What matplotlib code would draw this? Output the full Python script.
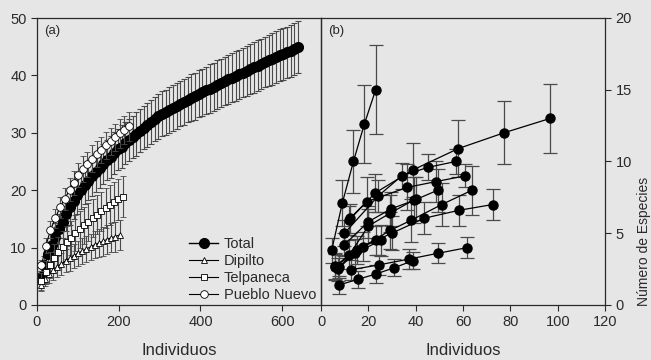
import numpy as np
import matplotlib.pyplot as plt

plt.rcParams['font.family'] = ['Liberation Sans', 'DejaVu Sans']

# ---- panel (a): rarefaction curves ----
tot_x = list(range(9, 640, 9))
tot_y = [4.8, 6.9, 8.8, 10.4, 11.8, 13.2, 14.5, 15.8, 17.0, 18.1,
         19.1, 20.0, 20.9, 21.6, 22.4, 23.1, 23.8, 24.5, 25.2, 25.8,
         26.5, 27.1, 27.6, 28.2, 28.7, 29.3, 29.8, 30.4, 30.9, 31.4,
         31.9, 32.4, 32.9, 33.3, 33.6, 34.0, 34.3, 34.7, 35.1, 35.4,
         35.8, 36.1, 36.4, 36.8, 37.1, 37.4, 37.7, 38.0, 38.4, 38.7,
         39.0, 39.3, 39.6, 39.9, 40.2, 40.5, 40.8, 41.1, 41.4, 41.7,
         42.0, 42.3, 42.6, 42.9, 43.2, 43.5, 43.7, 44.0, 44.3, 44.6,
         45.0]
tot_err = [1.2, 1.6, 1.9, 2.2, 2.4, 2.6, 2.8, 2.9, 3.0, 3.1,
           3.2, 3.2, 3.3, 3.3, 3.4, 3.4, 3.5, 3.5, 3.5, 3.6,
           3.6, 3.6, 3.7, 3.7, 3.7, 3.7, 3.8, 3.8, 3.8, 3.8,
           3.9, 3.9, 3.9, 3.9, 3.9, 4.0, 4.0, 4.0, 4.0, 4.0,
           4.0, 4.1, 4.1, 4.1, 4.1, 4.1, 4.2, 4.2, 4.2, 4.2,
           4.2, 4.3, 4.3, 4.3, 4.3, 4.3, 4.4, 4.4, 4.4, 4.4,
           4.4, 4.4, 4.5, 4.5, 4.5, 4.5, 4.5, 4.5, 4.5, 4.5,
           4.5]

dip_x = [10, 20, 30, 40, 50, 60, 70, 80, 90, 100, 111, 121, 131, 141, 151, 161, 171, 181, 191, 202]
dip_y = [3.5, 4.6, 5.4, 6.1, 6.7, 7.2, 7.7, 8.1, 8.6, 9.0, 9.4, 9.8, 10.1, 10.5, 10.8, 11.1, 11.4, 11.7, 11.9, 12.2]
dip_err = [1.0, 1.3, 1.5, 1.7, 1.8, 1.9, 2.0, 2.1, 2.1, 2.2, 2.2, 2.3, 2.3, 2.4, 2.4, 2.5, 2.5, 2.5, 2.6, 2.6]

tel_x = [10, 21, 31, 42, 52, 63, 73, 84, 94, 105, 115, 126, 136, 147, 157, 168, 178, 189, 199, 210]
tel_y = [4.1, 5.7, 7.0, 8.1, 9.2, 10.1, 10.9, 11.7, 12.5, 13.2, 13.9, 14.5, 15.1, 15.7, 16.3, 16.9, 17.4, 17.9, 18.4, 18.9]
tel_err = [1.5, 2.0, 2.3, 2.5, 2.7, 2.8, 2.9, 3.0, 3.1, 3.2, 3.2, 3.3, 3.3, 3.4, 3.4, 3.5, 3.5, 3.5, 3.6, 3.6]

pue_x = [11, 22, 33, 45, 56, 68, 80, 90, 101, 112, 123, 135, 146, 157, 168, 180, 191, 202, 214, 225]
pue_y = [6.9, 10.3, 13.1, 15.1, 17.0, 18.5, 20.1, 21.3, 22.6, 23.7, 24.5, 25.5, 26.3, 27.0, 27.8, 28.5, 29.2, 29.9, 30.5, 31.1]
pue_err = [1.0, 1.3, 1.5, 1.7, 1.8, 1.9, 2.0, 2.1, 2.1, 2.2, 2.2, 2.3, 2.3, 2.3, 2.4, 2.4, 2.4, 2.5, 2.5, 2.5]

# ---- panel (b): one curve per site ----
sites = [
    ([4.5, 9.0, 13.7, 18.3, 23.1], [3.8, 7.1, 10.0, 12.6, 15.0], [0.9, 1.6, 2.2, 2.7, 3.1]),
    ([11.8, 22.8, 38.7, 58.0, 77.3, 96.8], [5.9, 7.8, 9.4, 10.9, 12.0, 13.0], [1.0, 1.3, 1.9, 2.0, 2.2, 2.4]),
    ([9.9, 24.2, 34.1, 45.4, 56.9], [5.0, 7.6, 9.0, 9.6, 10.0], [0.9, 1.1, 0.9, 0.9, 0.9]),
    ([12.3, 19.3, 36.5, 48.6, 60.8], [6.05, 7.2, 8.2, 8.6, 9.0], [1.0, 1.7, 1.6, 1.4, 0.8]),
    ([9.9, 20.0, 29.6, 39.4, 49.3], [4.2, 5.8, 6.7, 7.3, 8.0], [0.8, 1.1, 1.2, 1.6, 1.5]),
    ([5.9, 17.9, 29.2, 38.0, 51.0, 63.8], [2.67, 4.07, 5.2, 5.9, 7.0, 8.0], [0.9, 1.0, 1.3, 1.5, 1.5, 1.7]),
    ([7.7, 15.1, 23.2, 29.9, 43.7, 58.3, 72.5], [2.67, 3.84, 4.5, 5.0, 6.05, 6.6, 7.0], [0.8, 1.0, 1.0, 1.2, 1.1, 1.1, 1.1]),
    ([7.7, 15.8, 23.2, 31.0, 39.0], [1.4, 1.8, 2.16, 2.6, 3.1], [0.6, 0.6, 0.6, 0.6, 0.6]),
    ([12.5, 24.6, 37.2, 49.3, 61.8], [2.45, 2.8, 3.2, 3.6, 4.0], [0.7, 0.7, 0.7, 0.7, 0.75]),
    ([6.0, 12.0, 20.0, 29.2, 40.1], [2.7, 3.5, 5.5, 6.4, 7.4], [0.9, 1.0, 1.2, 1.3, 1.5]),
    ([7.0, 14.4, 25.2], [2.5, 3.6, 4.5], [0.8, 1.0, 1.1]),
]

bg = '#e6e6e6'
dark = '#2a2a2a'
ebc = '#4a4a4a'

fig = plt.figure(figsize=(6.51, 3.6), dpi=100, facecolor=bg)
ax1 = fig.add_axes([0.0568, 0.1528, 0.4363, 0.7972])
ax2 = fig.add_axes([0.4931, 0.1528, 0.4363, 0.7972])

for ax in (ax1, ax2):
    ax.set_facecolor('none')
    for s in ax.spines.values():
        s.set_color(dark)
        s.set_linewidth(0.9)
    ax.tick_params(colors=dark, labelsize=10.5, length=4, width=0.8, direction='out')

# panel a
ax1.errorbar(tot_x, tot_y, yerr=tot_err, fmt='-o', color='black', ms=7, lw=1,
             ecolor=ebc, elinewidth=0.8, capsize=2.5, capthick=0.8, label='Total', zorder=2)
ax1.errorbar(dip_x, dip_y, yerr=dip_err, fmt='-^', color='black', mfc='white', mec='black',
             ms=5, lw=0.8, mew=0.6, ecolor=ebc, elinewidth=0.8, capsize=2.5, capthick=0.8,
             label='Dipilto', zorder=3)
ax1.errorbar(tel_x, tel_y, yerr=tel_err, fmt='-s', color='black', mfc='white', mec='black',
             ms=4.5, lw=0.8, mew=0.6, ecolor=ebc, elinewidth=0.8, capsize=2.5, capthick=0.8,
             label='Telpaneca', zorder=3)
ax1.errorbar(pue_x, pue_y, yerr=pue_err, fmt='-o', color='black', mfc='white', mec='black',
             ms=5.5, lw=0.8, mew=0.6, ecolor=ebc, elinewidth=0.8, capsize=2.5, capthick=0.8,
             label='Pueblo Nuevo', zorder=4)

ax1.set_xlim(0, 695)
ax1.set_ylim(0, 50)
ax1.set_xticks([0, 200, 400, 600])
ax1.set_yticks([0, 10, 20, 30, 40, 50])
ax1.set_xlabel('Individuos', fontsize=12, color=dark, labelpad=10)
ax1.text(0.025, 0.975, '(a)', transform=ax1.transAxes, ha='left', va='top', fontsize=9.5, color=dark)

handles, labels = ax1.get_legend_handles_labels()
handles = [h[0] for h in handles]
leg = ax1.legend(handles, labels, loc='lower right', bbox_to_anchor=(1.02, -0.025), frameon=False,
                 fontsize=10.5, handlelength=2.0, handletextpad=0.4, labelspacing=0.2,
                 borderaxespad=0.3)
for t in leg.get_texts():
    t.set_color(dark)

# panel b
for sx, sy, se in sites:
    ax2.errorbar(sx, sy, yerr=se, fmt='-o', color='black', ms=6.5, lw=0.9,
                 ecolor=ebc, elinewidth=0.9, capsize=5, capthick=0.9)

ax2.set_xlim(0, 120)
ax2.set_ylim(0, 20)
ax2.set_xticks([0, 20, 40, 60, 80, 100, 120])
ax2.set_yticks([0, 5, 10, 15, 20])
ax2.yaxis.tick_right()
ax2.yaxis.set_label_position('right')
ax2.tick_params(axis='y', left=False, right=True)
ax2.set_ylabel('Número de Especies', fontsize=10, color=dark, rotation=90)
ax2.yaxis.set_label_coords(1.112, 0.22)
ax2.set_xlabel('Individuos', fontsize=12, color=dark, labelpad=10)
ax2.text(0.025, 0.975, '(b)', transform=ax2.transAxes, ha='left', va='top', fontsize=9.5, color=dark)

fig.savefig('out.png', dpi=100, facecolor=bg)
